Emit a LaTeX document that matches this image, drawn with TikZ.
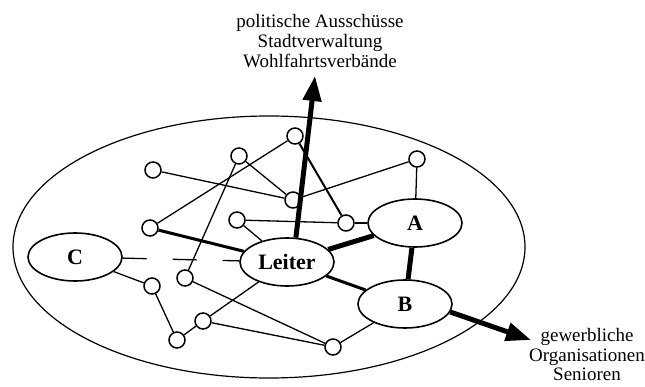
\documentclass[tikz,border=0pt]{standalone}
\usepackage{fontspec}
\setmainfont{Liberation Serif}
\usetikzlibrary{shapes.geometric,arrows.meta}
\begin{document}
\begin{tikzpicture}[x=1pt,y=-1pt,
  grp/.style={ellipse,draw,line width=1.6pt,minimum width=94pt,minimum height=48pt,inner sep=0pt,fill=white,font=\fontsize{22}{22}\selectfont\bfseries},
  pers/.style={circle,draw,line width=1.5pt,minimum size=16pt,inner sep=0pt,fill=white},
  link/.style={line width=1.3pt},
  midlink/.style={line width=2pt},
  strong/.style={line width=3pt},
  heavy/.style={line width=5pt},
  bigarrow/.style={line width=5pt,-{Triangle[length=25pt,width=18pt]}},
  lbl/.style={align=center,font=\fontsize{19}{20}\selectfont,inner sep=0pt}
]
\fill[white] (0,0) rectangle (645,387);
\useasboundingbox (0,0) rectangle (645,387);

\node[ellipse,draw,line width=1.2pt,minimum width=512pt,minimum height=262pt,inner sep=0pt] (org) at (269,247) {};

\node[grp] (C) at (75,257) {C};
\node[grp] (Leiter) at (287,262) {Leiter};
\node[grp] (A) at (415,223) {A};
\node[grp] (B) at (405,304) {B};

\node[pers] (n1) at (153,170) {};
\node[pers] (n2) at (239,156) {};
\node[pers] (n3) at (295,136) {};
\node[pers] (n4) at (293,200) {};
\node[pers] (n5) at (150,228) {};
\node[pers] (n6) at (237,220) {};
\node[pers] (n7) at (417,159) {};
\node[pers] (n8) at (346,223) {};
\node[pers] (n9) at (152,286) {};
\node[pers] (n10) at (185,278) {};
\node[pers] (n11) at (203,321) {};
\node[pers] (n12) at (177,340) {};
\node[pers] (n13) at (333,347) {};

\draw[link] (n1) -- (n4);
\draw[link] (n2) -- (n4);
\draw[link] (n2) -- (n10);
\draw[link] (n5) -- (n3);
\draw[strong] (n5) -- (Leiter);
\draw[link] (n6) -- (n8);
\draw[link] (n6) -- (Leiter);
\draw[midlink] (n3) -- (n8);
\draw[link] (n4) -- (n7);
\draw[link] (n7) -- (A);
\draw[link] (n8) -- (A);
\draw[heavy] (Leiter) -- (A);
\draw[heavy] (A) -- (B);
\draw[strong] (Leiter) -- (B);
\draw[link,dash pattern=on 24pt off 26pt] (C) -- (Leiter);
\draw[link] (C) -- (n9);
\draw[link] (n9) -- (n12);
\draw[link] (n12) -- (n11);
\draw[link] (n11) -- (Leiter);
\draw[link] (n10) -- (n13);
\draw[link] (n11) -- (n13);
\draw[link] (n13) -- (B);

\coordinate (up) at (315,76);
\coordinate (out) at (531,340);
\draw[bigarrow] (Leiter.70) -- (up);
\draw[bigarrow] (B.-10) -- (out);

\node[lbl] (ext1) at (320,41) {politische Ausschüsse\\Stadtverwaltung\\Wohlfahrtsverbände};
\node[lbl,font=\fontsize{19}{19.5}\selectfont] (ext2) at (587,355) {gewerbliche\\Organisationen\\Senioren};
\end{tikzpicture}
\end{document}
